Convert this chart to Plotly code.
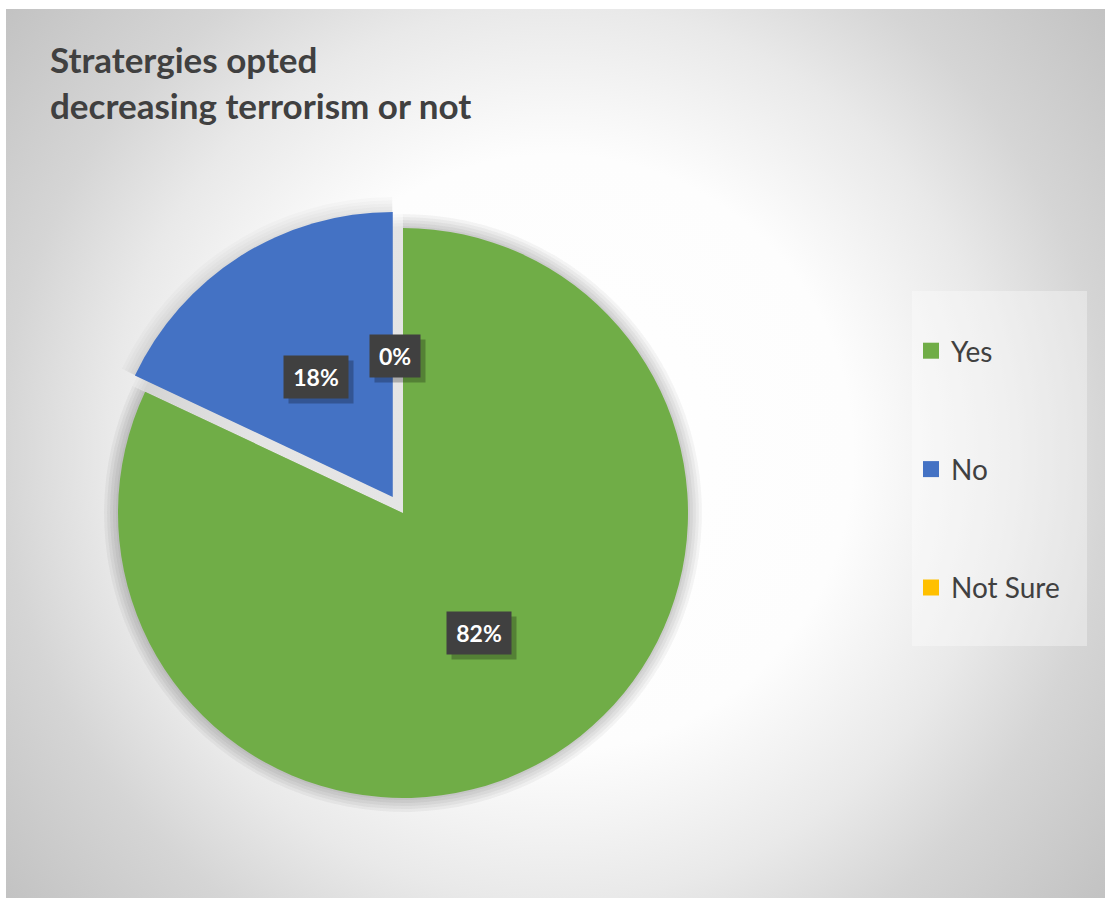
import base64
import math
import plotly.graph_objects as go

# Survey answers
categories = ["Yes", "No", "Not Sure"]
shares = [82, 18, 0]
slice_colors = ["#70AD47", "#4472C4", "#FFC000"]
explode = [0.0, 0.067, 0.067]

title_lines = ["Stratergies opted", "decreasing terrorism or not"]

W, H = 1108, 901

# Chart-area rectangle (pixels) and pie placement
area_x0, area_y0, area_x1, area_y1 = 6, 9, 1105, 898
pie_cx, pie_cy, pie_r = 403, 513, 285

# Radial grey background for the chart area
aw, ah = area_x1 - area_x0, area_y1 - area_y0
gcx, gcy = 555 - area_x0, 453 - area_y0
svg = f"""<svg xmlns='http://www.w3.org/2000/svg' width='{aw}' height='{ah}' viewBox='0 0 {aw} {ah}' preserveAspectRatio='none'>
<defs><radialGradient id='g' gradientUnits='userSpaceOnUse' cx='{gcx}' cy='{gcy}' r='710'>
<stop offset='0' stop-color='#ffffff'/>
<stop offset='0.42' stop-color='#fdfdfd'/>
<stop offset='0.63' stop-color='#e9e9e9'/>
<stop offset='0.78' stop-color='#d5d5d5'/>
<stop offset='1' stop-color='#c2c2c2'/>
</radialGradient></defs>
<rect x='0' y='0' width='{aw}' height='{ah}' fill='url(#g)'/>
</svg>"""
bg_uri = "data:image/svg+xml;base64," + base64.b64encode(svg.encode()).decode()


def px_x(x):
    return x / W


def px_y(y):
    return 1 - y / H


def pie_domain(r, pulled=True):
    half = r * (1 + (max(explode) if pulled else 0))
    return dict(x=[px_x(pie_cx - half), px_x(pie_cx + half)],
                y=[px_y(pie_cy + half), px_y(pie_cy - half)])


fig = go.Figure()

# Soft shadow under the pie (spread over several faint layers)
for grow in [14, 11, 8, 5, 2]:
    for pulled in (False, True):
        fig.add_trace(go.Pie(
            labels=categories, values=shares, sort=False, direction="clockwise",
            rotation=0, pull=explode if pulled else 0,
            domain=pie_domain(pie_r + grow, pulled),
            marker=dict(colors=["rgba(0,0,0,0.018)"] * 3, line=dict(width=0)),
            textinfo="none", hoverinfo="skip", showlegend=False,
        ))

fig.add_trace(go.Pie(
    labels=categories, values=shares, sort=False, direction="clockwise",
    rotation=0, pull=explode, domain=pie_domain(pie_r),
    marker=dict(colors=slice_colors, line=dict(width=0)),
    textinfo="none", showlegend=False, name="",
))

# Legend entries
for cat, col in zip(categories, slice_colors):
    fig.add_trace(go.Scatter(
        x=[None], y=[None], mode="markers", name=cat, legendgroup=cat,
        marker=dict(symbol="square", size=16, color=col),
    ))

# Percentage labels in dark boxes at mid-angle of each slice
total = sum(shares)
annotations = []
cum = 0
for val, pull in zip(shares, explode):
    mid = (cum + val / 2) / total * 2 * math.pi
    cum += val
    dx, dy = math.sin(mid), -math.cos(mid)
    cx = pie_cx + dx * pull * pie_r
    cy = pie_cy + dy * pull * pie_r
    lx = cx + dx * 0.5 * pie_r
    ly = cy + dy * 0.5 * pie_r
    if val == 0:
        lx -= 8
        ly += 5
    text = f"{val}%"
    bw = 14 * len(text) + 22
    common = dict(xref="paper", yref="paper", x=px_x(lx), y=px_y(ly),
                  xanchor="center", yanchor="middle", showarrow=False,
                  width=bw, height=42, borderpad=0)
    annotations.append(dict(text=" ", bgcolor="rgba(0,0,0,0.25)",
                            xshift=5, yshift=-5, **common))
    annotations.append(dict(text=f"<b>{text}</b>", bgcolor="#404040",
                            font=dict(family="Lato", size=23, color="#ffffff"),
                            **common))

fig.update_layout(
    width=W, height=H,
    margin=dict(l=0, r=0, t=0, b=0),
    paper_bgcolor="#ffffff",
    plot_bgcolor="rgba(0,0,0,0)",
    xaxis=dict(visible=False),
    yaxis=dict(visible=False),
    title=dict(
        text="<b>" + "<br>".join(title_lines) + "</b>",
        x=px_x(50), xanchor="left", y=px_y(73), yanchor="top",
        font=dict(family="Lato", size=35, color="#404040"),
    ),
    legend=dict(
        x=px_x(911), xanchor="left", y=px_y(326), yanchor="top",
        bgcolor="rgba(0,0,0,0)", font=dict(family="Lato", size=28, color="#404040"),
        tracegroupgap=79, itemclick=False, itemdoubleclick=False,
    ),
    images=[dict(source=bg_uri, xref="paper", yref="paper",
                 x=px_x(area_x0), y=px_y(area_y0),
                 sizex=(area_x1 - area_x0) / W, sizey=(area_y1 - area_y0) / H,
                 xanchor="left", yanchor="top", sizing="stretch", layer="below")],
    shapes=[dict(type="rect", xref="paper", yref="paper", layer="below",
                 x0=px_x(912), x1=px_x(1087), y0=px_y(646), y1=px_y(291),
                 line=dict(width=0), fillcolor="rgba(255,255,255,0.35)")],
    annotations=annotations,
)

fig.write_html("out.html")
